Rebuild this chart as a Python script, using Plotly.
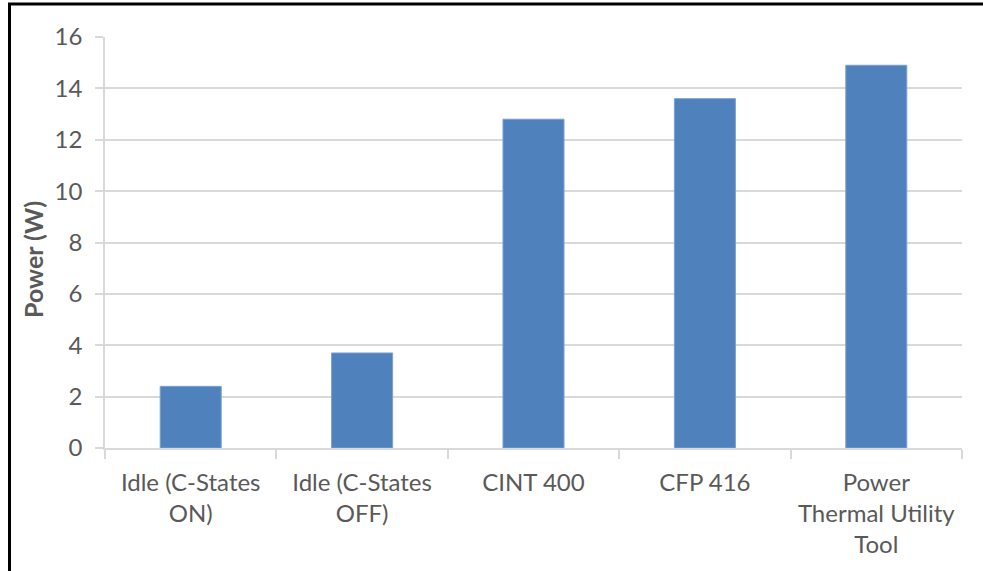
import plotly.graph_objects as go

# Average package power per workload
categories = [
    "Idle (C-States<br>ON)",
    "Idle (C-States<br>OFF)",
    "CINT 400",
    "CFP 416",
    "Power<br>Thermal Utility<br>Tool",
]
power_w = [2.4, 3.7, 12.8, 13.6, 14.9]
y_ticks = [0, 2, 4, 6, 8, 10, 12, 14, 16]

W, H = 983, 571
L, R, T, B = 105, 21, 37, 123
pw, ph = W - L - R, H - T - B

TEXT = "#595959"
GRID = "#D9D9D9"
FONT = "Lato, Calibri, sans-serif"

fig = go.Figure(
    go.Bar(
        x=categories,
        y=power_w,
        marker=dict(color="#4F81BD", line=dict(color="#7BA0CD", width=1)),
        hoverinfo="x+y",
    )
)

fig.update_layout(
    width=W,
    height=H,
    margin=dict(l=L, r=R, t=T, b=B, pad=0),
    paper_bgcolor="white",
    plot_bgcolor="white",
    bargap=0.644,
    showlegend=False,
    font=dict(family=FONT, size=24, color=TEXT),
)

fig.update_xaxes(
    range=[-0.5, 4.5],
    showgrid=False,
    showline=True,
    linecolor=GRID,
    linewidth=1.5,
    ticks="outside",
    tickson="boundaries",
    ticklen=9,
    tickcolor=GRID,
    tickwidth=1.5,
    ticklabelstandoff=12,
    tickfont=dict(family=FONT, size=24, color=TEXT),
    fixedrange=True,
)

fig.update_yaxes(
    range=[0, 16],
    tickvals=y_ticks,
    showgrid=True,
    gridcolor=GRID,
    gridwidth=1.5,
    zeroline=False,
    showline=True,
    linecolor=GRID,
    linewidth=1.5,
    ticks="outside",
    ticklen=8,
    tickcolor=GRID,
    tickwidth=1.5,
    ticklabelstandoff=8,
    tickfont=dict(family=FONT, size=24, color=TEXT),
    fixedrange=True,
)

# Y-axis title, placed as a rotated annotation
fig.add_annotation(
    text="<b>Power (W)</b>",
    xref="paper",
    yref="paper",
    x=(33 - L) / pw,
    y=(H - B - 260) / ph,
    xanchor="center",
    yanchor="middle",
    textangle=-90,
    showarrow=False,
    font=dict(family=FONT, size=25, color=TEXT),
)

# Black frame around the chart (runs off the right and bottom edges)
fig.add_shape(
    type="rect",
    xref="paper",
    yref="paper",
    x0=(9.5 - L) / pw,
    x1=(W + 10 - L) / pw,
    y0=-(B + 10) / ph,
    y1=1 + (T - 4) / ph,
    line=dict(color="black", width=3),
    fillcolor="rgba(0,0,0,0)",
    layer="above",
)

fig.write_html("out.html")
